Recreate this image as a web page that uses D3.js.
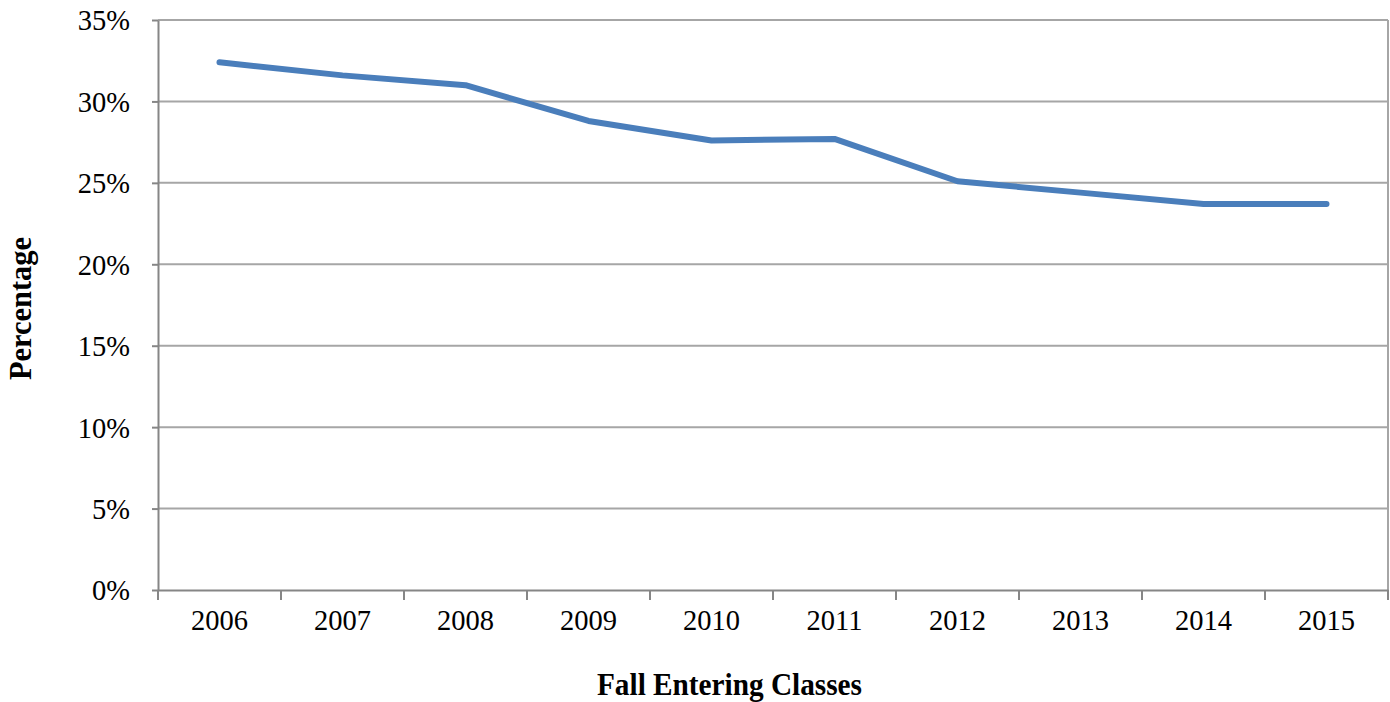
<!DOCTYPE html>
<meta charset="utf-8">
<style>
body { margin: 0; background: #fff; }
svg text { font-family: "Liberation Serif", "Times New Roman", serif; fill: #000; }
.axis path, .axis line { stroke: #868686; stroke-width: 2; fill: none; }
.grid line { stroke: #a6a6a6; stroke-width: 2; }
.axis text { font-size: 28.5px; }
.title { font-size: 31px; font-weight: bold; }
</style>
<body>
<script src="https://d3js.org/d3.v7.min.js"></script>
<script>
var years = ["2006", "2007", "2008", "2009", "2010", "2011", "2012", "2013", "2014", "2015"];
var rates = [0.324, 0.316, 0.310, 0.288, 0.276, 0.277, 0.251, 0.244, 0.237, 0.237];
var yTicks = [0, 0.05, 0.10, 0.15, 0.20, 0.25, 0.30, 0.35];

var margin = {top: 20, right: 2, bottom: 112, left: 158},
    width = 1390 - margin.left - margin.right,
    height = 702 - margin.top - margin.bottom;

var svg = d3.select("body").append("svg")
    .attr("width", 1390)
    .attr("height", 702);

var chart = svg.append("g")
    .attr("transform", "translate(" + margin.left + "," + margin.top + ")");

var x = d3.scaleBand().domain(years).range([0, width]);
var y = d3.scaleLinear().domain([0, 0.35]).range([height, 0]);

// gridlines
chart.append("g")
    .attr("class", "grid")
    .selectAll("line")
    .data(yTicks.slice(1))
    .enter().append("line")
    .attr("x1", 0)
    .attr("x2", width)
    .attr("y1", function(d) { return y(d); })
    .attr("y2", function(d) { return y(d); });

// right border
chart.append("line")
    .attr("x1", width).attr("x2", width)
    .attr("y1", 0).attr("y2", height)
    .style("stroke", "#a6a6a6").style("stroke-width", 2);

// y axis
var yAxis = chart.append("g")
    .attr("class", "axis")
    .call(d3.axisLeft(y).tickValues(yTicks).tickFormat(d3.format(".0%")).tickSize(6).tickSizeOuter(0).tickPadding(22));
yAxis.selectAll("text").attr("dy", "0.35em");

// x axis with ticks at band edges
var xAxis = chart.append("g")
    .attr("class", "axis")
    .attr("transform", "translate(0," + height + ")")
    .call(d3.axisBottom(x).tickSize(0).tickSizeOuter(0).tickPadding(30));
xAxis.selectAll("text").attr("dy", "0.35em");
xAxis.selectAll(".edge")
    .data(years.concat(["end"]))
    .enter().append("line")
    .attr("class", "edge")
    .attr("x1", function(d, i) { return i * x.step(); })
    .attr("x2", function(d, i) { return i * x.step(); })
    .attr("y1", 0)
    .attr("y2", 10);

// line
var line = d3.line()
    .x(function(d, i) { return x(years[i]) + x.bandwidth() / 2; })
    .y(function(d) { return y(d); });

chart.append("path")
    .datum(rates)
    .attr("d", line)
    .style("fill", "none")
    .style("stroke", "#4a7ebb")
    .style("stroke-width", 6)
    .style("stroke-linecap", "round")
    .style("stroke-linejoin", "round");

// axis titles
svg.append("text")
    .attr("class", "title")
    .attr("x", 729.5)
    .attr("y", 695)
    .attr("text-anchor", "middle")
    .attr("textLength", 265)
    .attr("lengthAdjust", "spacingAndGlyphs")
    .text("Fall Entering Classes");

svg.append("text")
    .attr("class", "title")
    .attr("transform", "translate(31," + 308.5 + ") rotate(-90)")
    .attr("text-anchor", "middle")
    .attr("textLength", 143)
    .attr("lengthAdjust", "spacingAndGlyphs")
    .text("Percentage");
</script>
</body>
